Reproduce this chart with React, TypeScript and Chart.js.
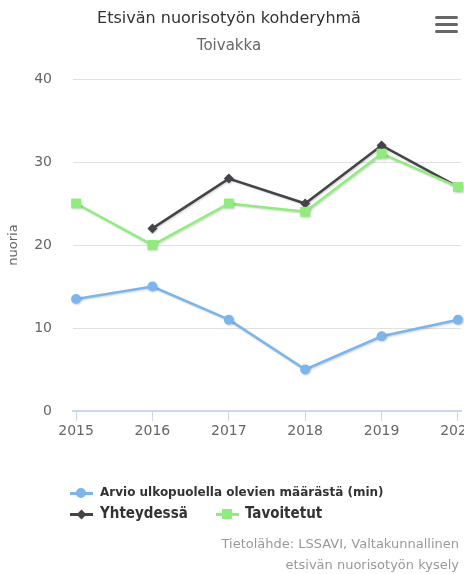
import React, { useEffect, useRef } from "react";
import { Chart, registerables } from "chart.js";

Chart.register(...registerables);

const years = [2015, 2016, 2017, 2018, 2019, 2020];
const arvio = [13.5, 15, 11, 5, 9, 11];
const yhteydessa = [null, 22, 28, 25, 32, 27];
const tavoitetut = [25, 20, 25, 24, 31, 27];
const yTicks = [0, 10, 20, 30, 40];

const seriesNames = ["Arvio ulkopuolella olevien määrästä (min)", "Yhteydessä", "Tavoitetut"];
const seriesColors = ["#7cb5ec", "#434348", "#90ed7d"];

const FONT = "'DejaVu Sans', sans-serif";
const LEGEND_FONT = "'DejaVu Sans Condensed', 'DejaVu Sans', sans-serif";

const shadowPlugin = {
  id: "lineShadow",
  beforeDatasetDraw(chart: any) {
    const ctx = chart.ctx;
    ctx.save();
    ctx.shadowColor = "rgba(0,0,0,0.18)";
    ctx.shadowOffsetX = 1;
    ctx.shadowOffsetY = 1;
    ctx.shadowBlur = 2;
  },
  afterDatasetDraw(chart: any) {
    chart.ctx.restore();
  },
};

function LegendSymbol({ color, shape }: { color: string; shape: string }) {
  let marker: React.CSSProperties = {};
  if (shape === "circle") {
    marker = { width: 10, height: 10, borderRadius: 5, left: 6, top: -4 };
  } else if (shape === "diamond") {
    marker = { width: 7, height: 7, left: 7.5, top: -2.5, transform: "rotate(45deg)" };
  } else {
    marker = { width: 10, height: 10, left: 6, top: -4 };
  }
  return (
    <div style={{ position: "absolute", left: 0, top: 0, width: 23, height: 2 }}>
      <div style={{ position: "absolute", left: 0, top: -0.5, width: 23, height: 3, background: color }} />
      <div style={{ position: "absolute", background: color, ...marker }} />
    </div>
  );
}

export default function App() {
  const canvasRef = useRef<HTMLCanvasElement | null>(null);

  useEffect(() => {
    document.body.style.margin = "0";
    const canvas = canvasRef.current;
    if (!canvas) return;
    const mk = (vals: (number | null)[]) => years.map((x, i) => ({ x, y: vals[i] }));
    const chart = new Chart(canvas, {
      type: "line",
      data: {
        datasets: [
          {
            label: seriesNames[0],
            data: mk(arvio) as any,
            borderColor: seriesColors[0],
            backgroundColor: seriesColors[0],
            pointStyle: "circle",
            pointRadius: 5,
            pointBorderWidth: 0,
            borderWidth: 2.5,
            order: 2,
            clip: false as any,
          },
          {
            label: seriesNames[1],
            data: mk(yhteydessa) as any,
            borderColor: seriesColors[1],
            backgroundColor: seriesColors[1],
            pointStyle: "rectRot",
            pointRadius: 5,
            pointBorderWidth: 0,
            borderWidth: 2.5,
            order: 1,
            clip: false as any,
          },
          {
            label: seriesNames[2],
            data: mk(tavoitetut) as any,
            borderColor: seriesColors[2],
            backgroundColor: seriesColors[2],
            pointStyle: "rect",
            pointRadius: 7,
            pointBorderWidth: 0,
            borderWidth: 2.5,
            order: 0,
            clip: false as any,
          },
        ],
      },
      options: {
        animation: false,
        responsive: false,
        maintainAspectRatio: false,
        layout: { padding: { top: 79, right: 29, bottom: 123, left: 0 } },
        plugins: {
          legend: { display: false },
          tooltip: { enabled: false },
          title: { display: false },
        },
        scales: {
          x: {
            type: "linear",
            min: 2014.96,
            max: 2020.04,
            afterBuildTicks: (scale: any) => {
              scale.ticks = years.map((v) => ({ value: v }));
            },
            afterFit: (scale: any) => {
              scale.height = 40;
            },
            ticks: {
              callback: (v: any) => String(v),
              color: "#666666",
              font: { family: FONT, size: 14 },
              padding: 2,
              autoSkip: false,
              maxRotation: 0,
            },
            grid: {
              drawOnChartArea: false,
              drawTicks: true,
              tickLength: 10,
              color: "#ccd6eb",
              lineWidth: 1,
            },
            border: { display: true, color: "#ccd6eb", width: 2 },
          },
          y: {
            min: 0,
            max: 40,
            afterBuildTicks: (scale: any) => {
              scale.ticks = yTicks.map((v) => ({ value: v }));
            },
            afterFit: (scale: any) => {
              scale.width = 73;
            },
            ticks: {
              color: "#666666",
              font: { family: FONT, size: 14 },
              padding: 21,
            },
            grid: { color: "#e0e0e0", drawTicks: false, lineWidth: 1 },
            border: { display: false },
            title: {
              display: true,
              text: "nuoria",
              color: "#666666",
              font: { family: FONT, size: 13 },
              padding: { top: 6, bottom: 0 },
            },
          },
        },
      },
      plugins: [shadowPlugin],
    });
    return () => chart.destroy();
  }, []);

  return (
    <div style={{ position: "relative", width: 464, height: 574, overflow: "hidden", background: "#ffffff" }}>
      <canvas ref={canvasRef} width={490} height={574} style={{ position: "absolute", left: 0, top: 0, width: 490, height: 574 }} />
      <div style={{ position: "absolute", left: 0, top: 8, width: 458, textAlign: "center", font: `16px ${FONT}`, color: "#333333", lineHeight: "20px" }}>
        Etsivän nuorisotyön kohderyhmä
      </div>
      <div style={{ position: "absolute", left: 0, top: 36, width: 458, textAlign: "center", font: `15px ${FONT}`, color: "#666666", lineHeight: "18px" }}>
        Toivakka
      </div>
      {[16, 23, 30].map((t) => (
        <div key={t} style={{ position: "absolute", left: 435, top: t, width: 23, height: 3, borderRadius: 1.5, background: "#666666" }} />
      ))}
      <div style={{ position: "absolute", left: 70, top: 492 }}>
        <LegendSymbol color={seriesColors[0]} shape="circle" />
      </div>
      <div style={{ position: "absolute", left: 100, top: 484, font: `bold 12px ${FONT}`, color: "#333333", lineHeight: "16px", whiteSpace: "nowrap" }}>
        {seriesNames[0]}
      </div>
      <div style={{ position: "absolute", left: 70, top: 513 }}>
        <LegendSymbol color={seriesColors[1]} shape="diamond" />
      </div>
      <div style={{ position: "absolute", left: 100, top: 503, font: `bold 15px ${LEGEND_FONT}`, color: "#333333", lineHeight: "20px", whiteSpace: "nowrap" }}>
        {seriesNames[1]}
      </div>
      <div style={{ position: "absolute", left: 216, top: 513 }}>
        <LegendSymbol color={seriesColors[2]} shape="square" />
      </div>
      <div style={{ position: "absolute", left: 245, top: 503, font: `bold 15px ${LEGEND_FONT}`, color: "#333333", lineHeight: "20px", whiteSpace: "nowrap" }}>
        {seriesNames[2]}
      </div>
      <div style={{ position: "absolute", right: 5, top: 534, font: `13px ${FONT}`, color: "#999999", lineHeight: "20px", textAlign: "right", whiteSpace: "nowrap" }}>
        Tietolähde: LSSAVI, Valtakunnallinen
      </div>
      <div style={{ position: "absolute", right: 5, top: 555, font: `13px ${FONT}`, color: "#999999", lineHeight: "20px", textAlign: "right", whiteSpace: "nowrap" }}>
        etsivän nuorisotyön kysely
      </div>
    </div>
  );
}
